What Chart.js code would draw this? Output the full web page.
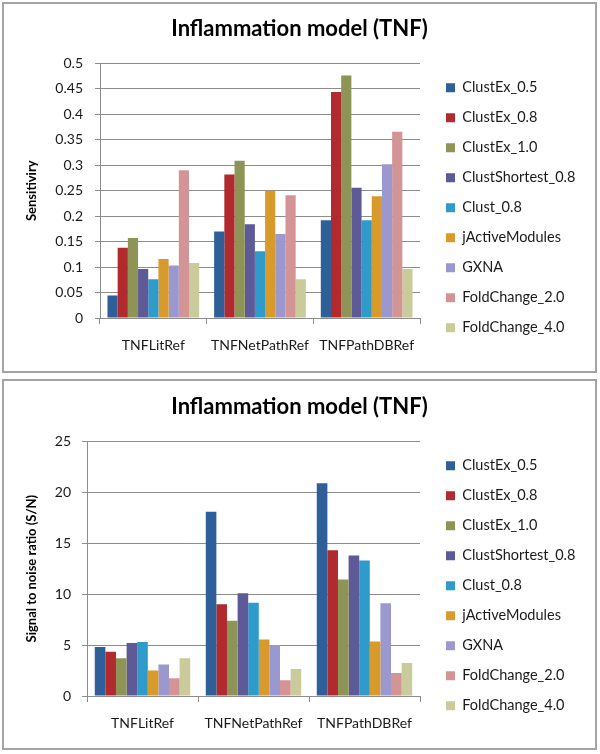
<!DOCTYPE html>
<html>
<head>
<meta charset="utf-8">
<script src="https://cdn.jsdelivr.net/npm/chart.js@4.4.0/dist/chart.umd.min.js"></script>
<style>
body{margin:0;background:#fff;}
.box{position:absolute;left:2px;width:591px;height:367px;border:2px solid #a3a3a3;background:#fff;}
.box canvas{display:block;}
#box1{top:2px;}
#box2{top:379px;}
</style>
</head>
<body>
<div class="box" id="box1"><canvas id="sensChart" width="591" height="367"></canvas></div>
<div class="box" id="box2"><canvas id="snrChart" width="591" height="367"></canvas></div>
<script>
const categories = ["TNFLitRef", "TNFNetPathRef", "TNFPathDBRef"];
const methods = ["ClustEx_0.5", "ClustEx_0.8", "ClustEx_1.0", "ClustShortest_0.8", "Clust_0.8",
                 "jActiveModules", "GXNA", "FoldChange_2.0", "FoldChange_4.0"];
const methodColors = ["#2e5f98", "#b02a2e", "#8e9455", "#5e5a98", "#2f9bcb",
                      "#d99a2c", "#9b98cf", "#d39496", "#c9cb9a"];

// sensitivity, one value per method
const sensLit     = [0.044, 0.138, 0.157, 0.096, 0.076, 0.116, 0.103, 0.290, 0.108];
const sensNetPath = [0.170, 0.282, 0.309, 0.184, 0.131, 0.250, 0.165, 0.241, 0.076];
const sensPathDB  = [0.192, 0.444, 0.476, 0.256, 0.192, 0.239, 0.302, 0.366, 0.096];

// signal to noise ratio, one value per method
const snrLit     = [4.8, 4.35, 3.7, 5.2, 5.3, 2.5, 3.1, 1.75, 3.7];
const snrNetPath = [18.1, 9.0, 7.4, 10.1, 9.15, 5.55, 5.0, 1.55, 2.65];
const snrPathDB  = [20.9, 14.3, 11.45, 13.8, 13.3, 5.35, 9.1, 2.25, 3.25];

Chart.defaults.font.family = "Lato, 'Open Sans', sans-serif";
Chart.defaults.color = "#1a1a1a";

const GRID = "#8c8c8c";

/* legend: keep one column, place it like the original */
function legendPlace(dx, top, width){
  return {
    id: "legendPlace",
    beforeInit(chart){
      const lg = chart.legend;
      const fit = lg.fit;
      lg.fit = function(){
        this.maxHeight = 1000;
        fit.call(this);
        this.width = width;
      };
    },
    afterLayout(chart){
      const lg = chart.legend;
      lg.left += dx;
      lg.right += dx;
      lg.top = top;
      lg.bottom = top + 400;
    }
  };
}

function makeChart(canvasId, yTitle, rows, yMax, yStep, lay){
  const datasets = methods.map((name, i) => ({
    label: name,
    data: rows.map(r => r[i]),
    backgroundColor: methodColors[i],
    borderWidth: 0,
    categoryPercentage: 0.86,
    barPercentage: 1
  }));

  return new Chart(document.getElementById(canvasId), {
    type: "bar",
    data: { labels: categories, datasets: datasets },
    options: {
      responsive: false,
      animation: false,
      layout: { padding: 0 },
      plugins: {
        title: {
          display: true,
          text: "Inflammation model (TNF)",
          color: "#000",
          font: { size: 22, weight: "bold" },
          padding: { top: lay.titleTop, bottom: lay.titleBottom }
        },
        legend: {
          position: "right",
          align: "start",
          labels: {
            boxWidth: 9,
            boxHeight: 9,
            padding: 15.5,
            color: "#1a1a1a",
            font: { size: 14.5 }
          }
        },
        tooltip: { enabled: false }
      },
      scales: {
        x: {
          afterFit: s => { s.height = lay.axisH; },
          grid: { drawOnChartArea: false, color: GRID, tickLength: 6 },
          border: { color: GRID },
          ticks: { padding: 13, color: "#1a1a1a", font: { size: 14 } }
        },
        y: {
          min: 0,
          max: yMax,
          afterFit: s => { s.width = lay.axisW; },
          grid: { color: GRID, tickLength: 5 },
          border: { color: GRID },
          ticks: {
            stepSize: yStep,
            padding: lay.yTickPad,
            color: "#1a1a1a",
            font: { size: 14 },
            callback: v => String(+v.toFixed(2))
          },
          title: {
            display: true,
            text: yTitle,
            color: "#000",
            font: { size: 13, weight: "bold" },
            padding: { top: lay.yTitlePad, bottom: 0 }
          }
        }
      }
    },
    plugins: [legendPlace(10.5, lay.legendTop, 175)]
  });
}

makeChart("sensChart", "Sensitiviry", [sensLit, sensNetPath, sensPathDB], 0.5, 0.05, {
  axisW: 96, axisH: 53, titleTop: 12, titleBottom: 21, yTitlePad: 20, yTickPad: 12, legendTop: 61
});

makeChart("snrChart", "Signal to noise ratio (S/N)", [snrLit, snrNetPath, snrPathDB], 25, 5, {
  axisW: 83, axisH: 52, titleTop: 13, titleBottom: 21, yTitlePad: 20, yTickPad: 11, legendTop: 62
});
</script>
</body>
</html>
